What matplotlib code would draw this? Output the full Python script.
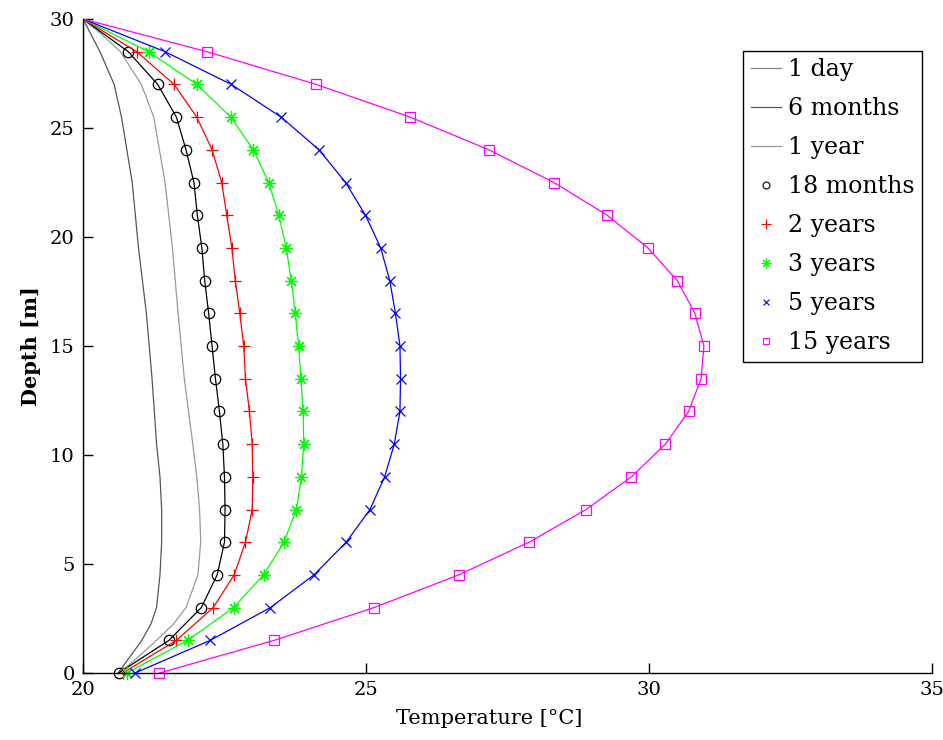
import matplotlib
matplotlib.use("Agg")
import matplotlib.pyplot as plt
from matplotlib.lines import Line2D

# Depths for marker series (m)
depth = [0, 1.5, 3, 4.5, 6, 7.5, 9, 10.5, 12, 13.5, 15, 16.5, 18, 19.5, 21, 22.5, 24, 25.5, 27, 28.5, 30]

t_18m = [20.63, 21.52, 22.09, 22.37, 22.5, 22.51, 22.5, 22.47, 22.41, 22.34, 22.28, 22.22, 22.15, 22.1, 22.02, 21.96, 21.82, 21.65, 21.32, 20.8, 20.0]
t_2y = [20.7, 21.65, 22.3, 22.67, 22.87, 22.99, 23.0, 22.99, 22.94, 22.87, 22.84, 22.77, 22.69, 22.63, 22.54, 22.45, 22.28, 22.01, 21.61, 20.95, 20.0]
t_3y = [20.77, 21.85, 22.66, 23.19, 23.55, 23.77, 23.86, 23.9, 23.89, 23.85, 23.81, 23.75, 23.68, 23.59, 23.46, 23.28, 23.01, 22.61, 22.01, 21.16, 20.0]
t_5y = [20.92, 22.25, 23.31, 24.08, 24.65, 25.07, 25.33, 25.5, 25.6, 25.61, 25.6, 25.52, 25.42, 25.26, 24.99, 24.64, 24.17, 23.5, 22.62, 21.45, 20.0]
t_15y = [21.35, 23.38, 25.14, 26.64, 27.88, 28.89, 29.69, 30.29, 30.7, 30.92, 30.97, 30.81, 30.5, 29.98, 29.26, 28.32, 27.17, 25.78, 24.12, 22.19, 20.0]

# Depths for plain line series (m)
depth_l = [0, 0.75, 1.5, 2.25, 3, 4.5, 6, 7.5, 9, 10.5, 13.5, 16.5, 19.5, 22.5, 25.5, 27, 28.5, 29.25, 30]
t_1d = [20.0] * len(depth_l)
t_6m = [20.62, 20.83, 21.04, 21.2, 21.3, 21.36, 21.39, 21.39, 21.36, 21.3, 21.22, 21.12, 20.98, 20.87, 20.68, 20.55, 20.3, 20.15, 20.0]
t_1y = [20.65, 20.98, 21.3, 21.6, 21.82, 22.03, 22.08, 22.06, 22.01, 21.94, 21.79, 21.68, 21.58, 21.45, 21.25, 21.03, 20.66, 20.35, 20.0]

labels = ["1 day", "6 months", "1 year", "18 months", "2 years", "3 years", "5 years", "15 years"]

plt.rcParams['font.family'] = 'DejaVu Serif'

fig = plt.figure(figsize=(9.43, 7.40), dpi=100)
ax = fig.add_axes([83/943, 67/740, (932-83)/943, (673-19)/740])

lw = 0.9
ax.plot(t_1d, depth_l, color='#888888', lw=lw)
ax.plot(t_6m, depth_l, color='#555555', lw=lw)
ax.plot(t_1y, depth_l, color='#999999', lw=lw)

series = [
    (t_18m, 'k', 'o', 7.5, dict(mfc='none')),
    (t_2y, '#ff0000', '+', 9, {}),
    (t_3y, '#00ff00', (8, 2, 0), 9, {}),
    (t_5y, '#0000ff', 'x', 6.5, {}),
    (t_15y, '#ff00ff', 's', 7, dict(mfc='none')),
]
for vals, c, m, ms, kw in series:
    ax.plot(vals, depth, color=c, lw=lw)
    ax.plot(vals[:-1], depth[:-1], ls='none', marker=m, ms=ms, color=c, mec=c,
            mew=0.9, clip_on=False, **kw)

ax.set_xlim(20, 35)
ax.set_ylim(0, 30)
ax.set_xticks([20, 25, 30, 35])
ax.set_yticks([0, 5, 10, 15, 20, 25, 30])
ax.spines['top'].set_visible(False)
ax.spines['right'].set_visible(False)
ax.spines['left'].set_linewidth(1.0)
ax.spines['bottom'].set_linewidth(1.0)
ax.tick_params(direction='in', length=7, width=1, labelsize=14, pad=6)
ax.set_xlabel("Temperature [°C]", fontsize=15, labelpad=5)
ax.xaxis.set_label_coords(0.478, -0.055)
ax.set_ylabel("Depth [m]", fontsize=15, fontweight='bold', labelpad=6)

handles = [
    Line2D([], [], color='#888888', lw=lw),
    Line2D([], [], color='#555555', lw=lw),
    Line2D([], [], color='#999999', lw=lw),
    Line2D([], [], ls='none', marker='o', ms=5, mfc='none', mec='k', mew=0.8),
    Line2D([], [], ls='none', marker='+', ms=7, mec='#ff0000', mew=0.8),
    Line2D([], [], ls='none', marker=(8, 2, 0), ms=7, mec='#00ff00', mew=0.8),
    Line2D([], [], ls='none', marker='x', ms=5, mec='#0000ff', mew=0.8),
    Line2D([], [], ls='none', marker='s', ms=5, mfc='none', mec='#ff00ff', mew=0.8),
]
leg = ax.legend(handles, labels, loc='upper right', bbox_to_anchor=(922/943, 1 - 51/740),
                bbox_transform=fig.transFigure, borderaxespad=0, fancybox=False,
                edgecolor='k', framealpha=1, fontsize=17, handlelength=1.3,
                handletextpad=0.3, labelspacing=0.68, borderpad=0.3)
leg.get_frame().set_linewidth(1.0)

fig.savefig("out.png", dpi=100)
